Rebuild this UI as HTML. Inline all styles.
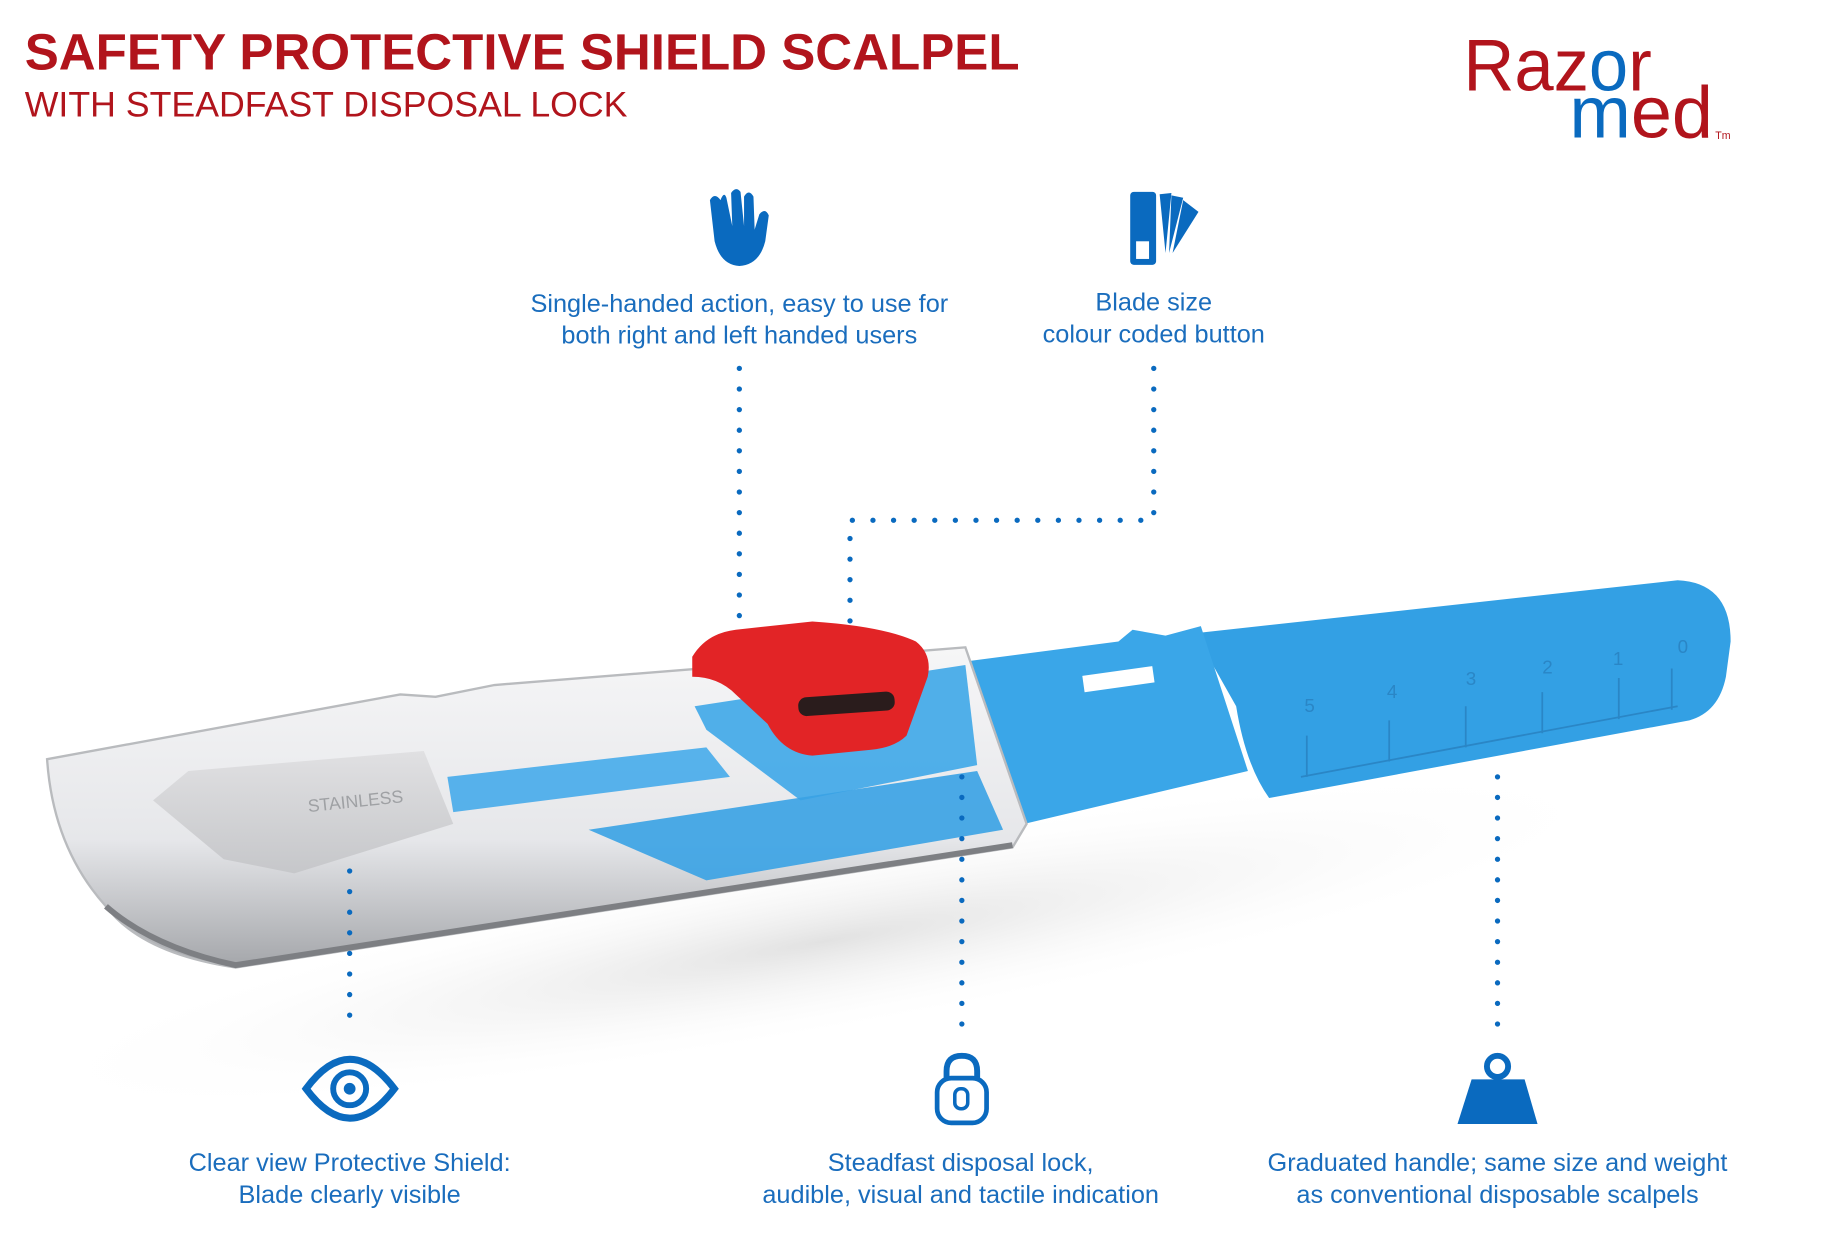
<!DOCTYPE html>
<html><head><meta charset="utf-8"><style>
html,body{margin:0;padding:0;background:#fff;width:1846px;height:1250px;overflow:hidden}
svg{display:block}
text{font-family:"Liberation Sans",sans-serif}
.l{fill:#1a6dbd;font-size:21.5px;text-anchor:middle}
.d{stroke:#0a6abf;stroke-width:4.5;stroke-linecap:round;stroke-dasharray:0 17.5;fill:none}
</style></head><body>
<svg width="1846" height="1250" viewBox="0 0 1568 1062" preserveAspectRatio="none" xmlns="http://www.w3.org/2000/svg">
<defs>
<linearGradient id="sh" x1="0" y1="0" x2="0" y2="1">
<stop offset="0" stop-color="#f6f6f7"/><stop offset="0.6" stop-color="#e6e7ea"/><stop offset="1" stop-color="#a4a6aa"/>
</linearGradient>
<linearGradient id="bl" x1="0" y1="0" x2="0" y2="1">
<stop offset="0" stop-color="#e0e0e2"/><stop offset="1" stop-color="#c6c7ca"/>
</linearGradient>
<radialGradient id="shadow" cx="0.5" cy="0.5" r="0.5"><stop offset="0" stop-color="#e2e2e2"/><stop offset="1" stop-color="#fff" stop-opacity="0"/></radialGradient>
</defs>
<!-- title -->
<text x="21" y="59" font-size="43" font-weight="bold" fill="#b1141c" textLength="845" lengthAdjust="spacingAndGlyphs">SAFETY PROTECTIVE SHIELD SCALPEL</text>
<text x="21" y="99" font-size="30" fill="#b1141c" textLength="512" lengthAdjust="spacingAndGlyphs">WITH STEADFAST DISPOSAL LOCK</text>
<!-- logo -->
<text x="1243" y="77" font-size="62" fill="#b1141c" textLength="160" lengthAdjust="spacingAndGlyphs">Raz<tspan fill="#0a6abf">o</tspan>r</text>
<text x="1333" y="117" font-size="62" fill="#b1141c" textLength="122" lengthAdjust="spacingAndGlyphs"><tspan fill="#0a6abf">m</tspan>ed</text>
<text x="1457" y="118" font-size="9" fill="#b1141c">Tm</text>
<!-- shadow -->
<ellipse cx="700" cy="800" rx="700" ry="80" fill="url(#shadow)" transform="rotate(-10 700 800)"/>
<!-- blue handle -->
<path d="M1015 538 L1425 493 Q1470 495 1470 545 L1466 575 Q1460 605 1435 612 L1078 678 Q1058 650 1050 600 Z" fill="#33a0e4"/>
<g stroke="#2a86c6" stroke-width="1.5">
<path d="M1105 660 L1425 600"/>
<path d="M1110 625 V660 M1180 612 V647 M1245 600 V635 M1310 588 V623 M1375 576 V611 M1420 568 V603"/>
</g>
<g fill="#2a86c6" font-size="16"><text x="1108" y="605">5</text><text x="1178" y="593">4</text><text x="1245" y="582">3</text><text x="1310" y="572">2</text><text x="1370" y="565">1</text><text x="1425" y="555">0</text></g>
<path d="M820 562 L950 545 L962 535 L990 540 L1020 532 L1060 655 L870 700 Z" fill="#3aa6e8"/>
<rect x="920" y="570" width="60" height="14" fill="#fff" transform="rotate(-8 950 577)"/>
<!-- shield -->
<path d="M40 645 L340 590 L370 592 L420 582 L820 550 L872 700 L860 720 L200 822 Q120 810 90 770 Q45 720 40 645 Z" fill="url(#sh)" stroke="#b9bbbe" stroke-width="2"/>
<path d="M90 770 Q130 805 200 820 L860 718" stroke="#7d7f83" stroke-width="5" fill="none"/>
<!-- blade -->
<path d="M130 680 L160 655 L360 638 L385 700 L250 742 L190 730 Z" fill="url(#bl)"/>
<text x="262" y="690" font-size="15" fill="#9fa1a4" transform="rotate(-6 262 690)">STAINLESS</text>
<!-- inner blue -->
<path d="M380 660 L600 635 L620 660 L385 690 Z" fill="#46abea" opacity="0.9"/>
<path d="M590 600 L820 565 L830 650 L680 680 L600 620 Z" fill="#3ea7e8" opacity="0.9"/>
<path d="M500 705 L830 655 L852 705 L600 748 Z" fill="#38a2e4" opacity="0.9"/>
<!-- red button -->
<path d="M588 558 Q600 538 625 535 L690 528 Q750 532 778 545 Q792 556 788 575 L770 625 Q760 635 740 637 L690 642 Q665 640 652 615 L625 590 Q610 575 588 575 Z" fill="#e22426"/>
<rect x="678" y="590" width="82" height="16" rx="7" fill="#2a1c1c" transform="rotate(-4 719 598)"/>
<!-- dotted connectors -->
<path class="d" d="M628 313 V540"/>
<path class="d" d="M980 313 V442 H722 V530"/>
<path class="d" d="M297 740 V880"/>
<path class="d" d="M817 660 V880"/>
<path class="d" d="M1272 660 V880"/>
<!-- hand icon -->
<path d="M612 170 Q607 163 603 170 L607 205 Q612 225 628 226 Q645 225 650 205 L653 183 Q650 176 645 182 L641 195 L640 167 Q636 160 632 167 L632 192 L629 163 Q625 158 621 164 L622 192 L617 168 Q615 162 612 170 Z" fill="#0a6abf"/>
<!-- swatch -->
<rect x="960" y="163" width="22" height="62" rx="3" fill="#0a6abf"/>
<rect x="965" y="205" width="11" height="15" fill="#fff"/>
<path d="M985 165 L995 164 L990 215 Z M995 166 L1005 168 L993 215 Z M1005 170 L1018 180 L996 215 Z" fill="#0a6abf"/>
<!-- eye -->
<path d="M260 925 Q297 875 335 925 Q297 975 260 925 Z" fill="none" stroke="#0a6abf" stroke-width="6"/>
<circle cx="297" cy="925" r="14" fill="none" stroke="#0a6abf" stroke-width="5"/>
<circle cx="297" cy="925" r="5" fill="#0a6abf"/>
<!-- lock -->
<path d="M804 918 V910 Q804 897 817 897 Q830 897 830 910 V918" fill="none" stroke="#0a6abf" stroke-width="5"/>
<rect x="796" y="916" width="42" height="38" rx="12" fill="none" stroke="#0a6abf" stroke-width="4"/>
<rect x="811" y="925" width="11" height="17" rx="5" fill="none" stroke="#0a6abf" stroke-width="3"/>
<!-- weight -->
<circle cx="1272" cy="906" r="9" fill="none" stroke="#0a6abf" stroke-width="5"/>
<path d="M1250 917 L1295 917 L1306 955 L1238 955 Z" fill="#0a6abf"/>
<!-- labels -->
<text class="l" x="628" y="265">Single-handed action, easy to use for</text>
<text class="l" x="628" y="292">both right and left handed users</text>
<text class="l" x="980" y="264">Blade size</text>
<text class="l" x="980" y="291">colour coded button</text>
<text class="l" x="297" y="995">Clear view Protective Shield:</text>
<text class="l" x="297" y="1022">Blade clearly visible</text>
<text class="l" x="816" y="995">Steadfast disposal lock,</text>
<text class="l" x="816" y="1022">audible, visual and tactile indication</text>
<text class="l" x="1272" y="995">Graduated handle; same size and weight</text>
<text class="l" x="1272" y="1022">as conventional disposable scalpels</text>
</svg>
</body></html>
